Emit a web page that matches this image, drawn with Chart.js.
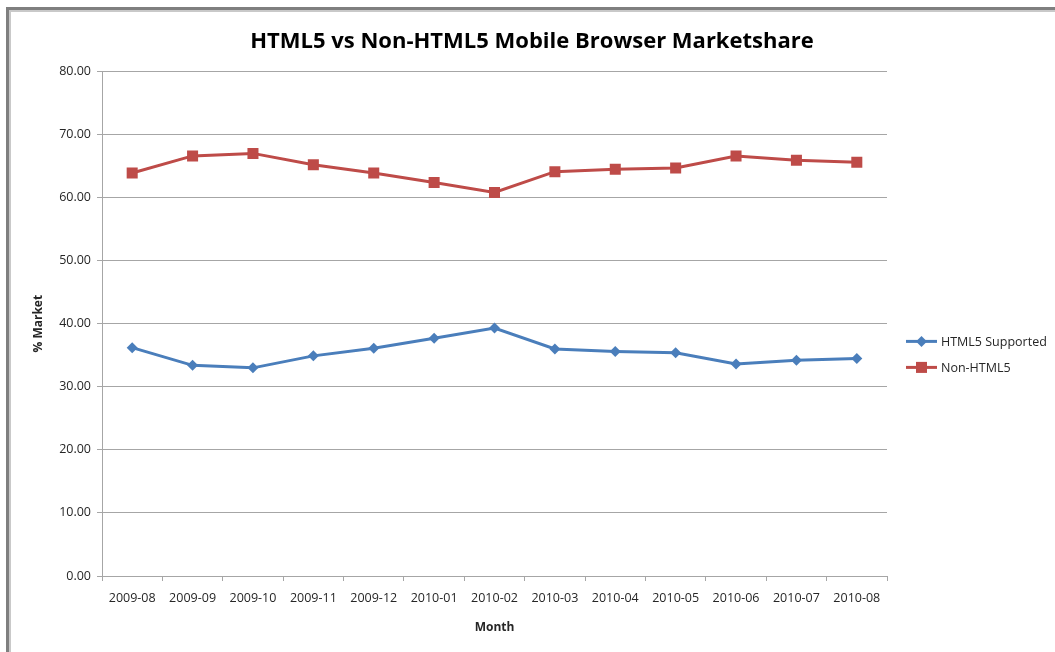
<!DOCTYPE html>
<html>
<head>
<meta charset="utf-8">
<title>HTML5 vs Non-HTML5 Mobile Browser Marketshare</title>
<script src="https://cdn.jsdelivr.net/npm/chart.js@4.4.1/dist/chart.umd.min.js"></script>
<style>
  html, body {
    margin: 0;
    padding: 0;
    background: #ffffff;
    overflow: hidden;
  }
  #frame {
    position: absolute;
    left: 6px;
    top: 7px;
    width: 1049px;
    height: 644px;
    border-left: 3px solid #7f7f7f;
    border-top: 3px solid #7f7f7f;
    border-bottom: 1px solid #ececec;
    box-shadow: inset 2px 2px 0 #c9c9c9;
  }
  #chartBox {
    position: absolute;
    left: 0;
    top: 0;
    width: 1046px;
    height: 642px;
  }
</style>
</head>
<body>
<div id="frame">
  <div id="chartBox"><canvas id="shareChart"></canvas></div>
</div>
<script>
const months = [
  '2009-08', '2009-09', '2009-10', '2009-11', '2009-12', '2010-01', '2010-02',
  '2010-03', '2010-04', '2010-05', '2010-06', '2010-07', '2010-08',
];
const html5Supported = [
  36.2, 33.4, 33.0, 34.9, 36.1, 37.7, 39.3, 36.0, 35.6, 35.4, 33.6, 34.2, 34.5,
];
const nonHtml5 = [
  63.9, 66.6, 67.0, 65.2, 63.9, 62.4, 60.8, 64.1, 64.5, 64.7, 66.6, 65.9, 65.6,
];
const yTicks = [0, 10, 20, 30, 40, 50, 60, 70, 80];

const FONT = "'Open Sans', 'DejaVu Sans', sans-serif";
const TEXT = '#262626';
const GRID = '#a6a6a6';
const BLUE = '#4a7ebb';
const RED = '#be4b48';

// Excel-style legend: short line with the series marker in the middle
const sideLegend = {
  id: 'sideLegend',
  afterDraw(chart) {
    const { ctx, chartArea } = chart;
    const x0 = chartArea.right + 19;
    const x1 = chartArea.right + 50;
    ctx.save();
    ctx.font = `12.5px ${FONT}`;
    ctx.textBaseline = 'middle';
    chart.data.datasets.forEach((ds, i) => {
      const y = chartArea.top + 270 + i * 26;
      ctx.strokeStyle = ds.borderColor;
      ctx.lineWidth = 3;
      ctx.beginPath();
      ctx.moveTo(x0, y);
      ctx.lineTo(x1, y);
      ctx.stroke();
      ctx.fillStyle = ds.pointBackgroundColor;
      Chart.helpers.drawPoint(ctx, {
        pointStyle: ds.pointStyle,
        radius: ds.pointRadius,
        rotation: 0,
        borderWidth: 0,
      }, (x0 + x1) / 2, y);
      ctx.fillStyle = TEXT;
      ctx.fillText(ds.label, x1 + 4, y + 1);
    });
    ctx.restore();
  },
};

const ctx = document.getElementById('shareChart').getContext('2d');
new Chart(ctx, {
  type: 'line',
  data: {
    labels: months,
    datasets: [
      {
        label: 'HTML5 Supported',
        data: html5Supported,
        borderColor: BLUE,
        backgroundColor: BLUE,
        pointBackgroundColor: BLUE,
        pointBorderColor: BLUE,
        pointBorderWidth: 0,
        pointStyle: 'rectRot',
        pointRadius: 5.5,
        borderWidth: 3,
        tension: 0,
      },
      {
        label: 'Non-HTML5',
        data: nonHtml5,
        borderColor: RED,
        backgroundColor: RED,
        pointBackgroundColor: RED,
        pointBorderColor: RED,
        pointBorderWidth: 0,
        pointStyle: 'rect',
        pointRadius: 7.8,
        borderWidth: 3,
        tension: 0,
      },
    ],
  },
  options: {
    responsive: true,
    maintainAspectRatio: false,
    animation: false,
    layout: {
      padding: 0,
    },
    scales: {
      x: {
        offset: true,
        grid: {
          offset: true,
          drawOnChartArea: false,
          drawTicks: true,
          tickLength: 5,
          color: GRID,
        },
        border: { display: true, color: GRID, width: 1 },
        ticks: {
          color: TEXT,
          font: { family: FONT, size: 12.5 },
          padding: 10,
          maxRotation: 0,
          autoSkip: false,
        },
        title: {
          display: true,
          text: 'Month',
          color: TEXT,
          font: { family: FONT, size: 12, weight: 'bold' },
          padding: { top: 0, bottom: 17 },
        },
        afterFit(scale) {
          scale.height = 76;
        },
      },
      y: {
        min: 0,
        max: 80,
        afterBuildTicks(scale) {
          scale.ticks = yTicks.map((v) => ({ value: v }));
        },
        grid: {
          color: GRID,
          lineWidth: 1,
          drawTicks: true,
          tickLength: 5,
        },
        border: { display: true, color: GRID, width: 1 },
        ticks: {
          color: TEXT,
          font: { family: FONT, size: 12.5 },
          padding: 6,
          callback: (v) => Number(v).toFixed(2),
        },
        title: {
          display: true,
          text: '% Market',
          color: TEXT,
          font: { family: FONT, size: 12, weight: 'bold' },
          padding: { top: 22, bottom: 0 },
        },
        afterFit(scale) {
          scale.width = 93;
        },
      },
      // empty right-hand strip that holds the legend
      legendSpace: {
        position: 'right',
        display: true,
        grid: { display: false, drawTicks: false },
        border: { display: false },
        ticks: { display: false },
        afterFit(scale) {
          scale.width = 168;
        },
      },
    },
    plugins: {
      legend: { display: false },
      tooltip: { enabled: false },
      title: {
        display: true,
        text: 'HTML5 vs Non-HTML5 Mobile Browser Marketshare',
        color: '#000000',
        font: { family: FONT, size: 22, weight: 'bold' },
        padding: { top: 19, bottom: 16 },
      },
    },
  },
  plugins: [sideLegend],
});
</script>
</body>
</html>
